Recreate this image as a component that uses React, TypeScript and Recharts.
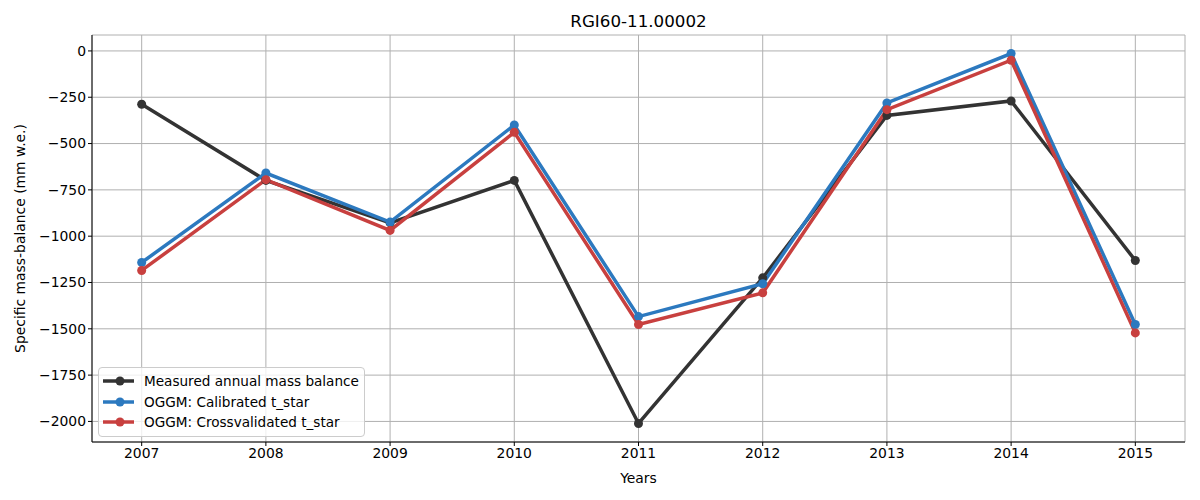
import {
  LineChart,
  Line,
  XAxis,
  YAxis,
  CartesianGrid,
} from 'recharts';

const years = [2007, 2008, 2009, 2010, 2011, 2012, 2013, 2014, 2015];
const measured = [-288, -699, -928, -699, -2011, -1225, -348, -270, -1131];
const calibrated = [-1142, -659, -924, -400, -1434, -1257, -281, -14, -1477];
const crossval = [-1185, -695, -969, -439, -1477, -1306, -317, -50, -1522];
const yTicks = [0, -250, -500, -750, -1000, -1250, -1500, -1750, -2000];

const series = [
  { key: 'measured', name: 'Measured annual mass balance', color: '#333333' },
  { key: 'calibrated', name: 'OGGM: Calibrated t_star', color: '#2c79bf' },
  { key: 'crossval', name: 'OGGM: Crossvalidated t_star', color: '#c8403f' },
];

const FONT = '"DejaVu Sans", sans-serif';

const fmtNum = (v: number) => (v < 0 ? `\u2212${Math.abs(v)}` : String(v));

function LegendBox() {
  return (
    <div
      style={{
        position: 'absolute',
        left: 98,
        top: 367,
        border: '1px solid #cccccc',
        borderRadius: 4,
        background: 'rgba(255,255,255,0.8)',
        padding: '3px 5px 3px 2px',
        fontFamily: FONT,
        fontSize: 13.6,
        color: '#000',
        lineHeight: '20.5px',
      }}
    >
      {series.map((s) => (
        <div key={s.key} style={{ display: 'flex', alignItems: 'center' }}>
          <svg width={43} height={20}>
            <line x1={2} y1={10} x2={33} y2={10} stroke={s.color} strokeWidth={3.5} />
            <circle cx={19} cy={10} r={4.5} fill={s.color} />
          </svg>
          <span>{s.name}</span>
        </div>
      ))}
    </div>
  );
}

export default function App() {
  const data = years.map((y, i) => ({
    year: y,
    measured: measured[i],
    calibrated: calibrated[i],
    crossval: crossval[i],
  }));

  return (
    <div style={{ position: 'absolute', left: 0, top: 0, width: 1200, height: 500, background: '#fff' }}>
      <div
        style={{
          position: 'absolute',
          left: 92,
          width: 1093,
          top: 11,
          textAlign: 'center',
          fontFamily: FONT,
          fontSize: 16.7,
        }}
      >
        RGI60-11.00002
      </div>
      <LineChart
        width={1200}
        height={500}
        data={data}
        margin={{ top: 35, right: 15, bottom: 13, left: 0 }}
        style={{ fontFamily: FONT }}
      >
        <CartesianGrid stroke="#b0b0b0" strokeWidth={1} />
        <XAxis
          dataKey="year"
          type="number"
          domain={[2006.6, 2015.4]}
          ticks={years}
          allowDataOverflow
          height={45}
          stroke="#000"
          tickSize={4}
          tick={{ fill: '#000', fontSize: 13.9 }}
          label={{ value: 'Years', position: 'insideBottom', offset: 4, fill: '#000', fontSize: 13.9 }}
        />
        <XAxis
          xAxisId="top"
          dataKey="year"
          type="number"
          orientation="top"
          domain={[2006.6, 2015.4]}
          allowDataOverflow
          height={0}
          tick={false}
          tickLine={false}
          stroke="#000"
        />
        <YAxis
          type="number"
          domain={[-2111, 86]}
          ticks={yTicks}
          allowDataOverflow
          width={92}
          stroke="#000"
          tickSize={4}
          tickFormatter={fmtNum}
          tick={{ fill: '#000', fontSize: 13.9 }}
          label={{
            value: 'Specific mass-balance (mm w.e.)',
            angle: -90,
            position: 'insideLeft',
            offset: 20,
            style: { textAnchor: 'middle' },
            fill: '#000',
            fontSize: 13.9,
          }}
        />
        <YAxis
          yAxisId="right"
          orientation="right"
          domain={[-2111, 86]}
          allowDataOverflow
          width={0}
          tick={false}
          tickLine={false}
          stroke="#000"
        />
        {series.map((s) => (
          <Line
            key={s.key}
            dataKey={s.key}
            name={s.name}
            stroke={s.color}
            strokeWidth={3.5}
            dot={{ r: 4.5, fill: s.color, stroke: s.color, strokeWidth: 0 }}
            activeDot={false}
            isAnimationActive={false}
          />
        ))}
      </LineChart>
      <LegendBox />
    </div>
  );
}
